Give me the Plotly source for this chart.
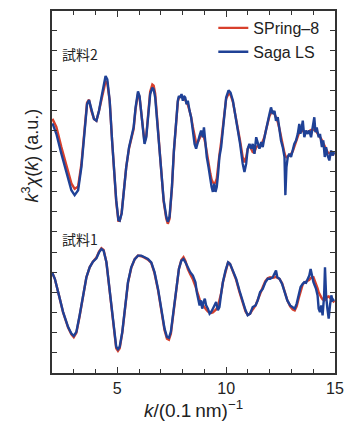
import plotly.graph_objects as go

# ---------------- data ----------------
# Sample 2 (upper curve), shared k grid
k2 = [2.02,2.20,2.43,2.66,2.89,3.04,3.20,3.35,3.50,3.61,
      3.70,3.81,3.93,4.04,4.16,4.27,4.37,4.46,4.54,4.65,
      4.76,4.85,4.95,5.05,5.11,5.20,5.29,5.41,5.54,5.64,
      5.75,5.84,5.95,6.02,6.10,6.18,6.25,6.33,6.42,6.51,
      6.61,6.67,6.74,6.82,6.91,7.02,7.13,7.25,7.32,7.40,
      7.51,7.60,7.71,7.78,7.83,7.89,7.95,8.01,8.06,8.12,
      8.18,8.24,8.32,8.39,8.47,8.55,8.62,8.70,8.78,8.85,
      8.93,8.98,9.04,9.11,9.19,9.27,9.33,9.39,9.45,9.51,
      9.57,9.63,9.69,9.77,9.85,9.92,10.00,10.11,10.20,10.31,
      10.41,10.54,10.64,10.76,10.84,10.92,10.99,11.07,11.15,11.22,
      11.30,11.38,11.45,11.53,11.61,11.68,11.76,11.83,11.91,11.99,
      12.06,12.14,12.22,12.29,12.37,12.45,12.52,12.60,12.68,12.72,
      12.77,12.83,12.90,12.98,13.06,13.13,13.21,13.29,13.36,13.41,
      13.46,13.52,13.59,13.67,13.75,13.82,13.90,13.98,14.05,14.10,
      14.16,14.25,14.31,14.40,14.46,14.53,14.59,14.66,14.74,14.82,
      14.89,14.97]
saga2 = [12.38,11.86,10.87,9.89,9.06,8.82,9.06,10.21,11.86,13.33,
         13.53,13.00,12.59,12.51,13.00,13.66,14.32,14.73,14.56,13.50,
         11.53,9.89,8.57,7.59,7.55,7.91,8.90,10.21,11.20,11.61,
         12.18,13.17,13.96,13.74,12.84,11.86,11.36,11.69,13.00,13.83,
         14.15,14.07,13.66,12.68,11.36,9.89,8.57,7.75,7.50,7.75,
         9.23,11.03,12.84,13.50,13.74,13.66,13.83,13.50,13.74,13.66,
         13.33,13.50,13.00,12.68,12.02,11.36,11.12,11.53,11.77,12.02,
         11.69,12.18,11.36,10.71,10.21,9.47,9.23,8.98,9.39,8.98,
         9.23,9.89,10.71,11.20,12.18,13.00,13.66,14.02,13.91,13.50,
         12.84,12.18,11.36,10.38,9.97,10.38,11.12,11.36,11.12,11.36,
         10.87,11.69,11.36,11.12,11.45,11.20,11.69,12.10,12.51,12.84,
         13.17,12.84,13.00,12.51,12.68,12.02,11.53,11.20,10.71,8.82,
         10.21,10.71,10.87,10.71,11.03,11.36,11.53,11.86,12.35,11.86,
         12.10,12.51,11.69,12.02,11.86,12.02,11.69,12.18,12.68,11.94,
         12.18,11.69,11.86,11.20,11.53,10.71,11.20,10.79,10.54,11.03,
         10.79,10.95]
spring2 = [12.60,12.20,11.20,10.25,9.40,9.13,9.25,10.35,11.95,13.40,
           13.55,13.00,12.59,12.51,13.00,13.60,14.15,14.45,14.40,13.50,
           11.53,9.89,8.50,7.55,7.55,7.95,8.95,10.21,11.15,11.55,
           12.10,13.10,13.85,13.70,12.84,11.90,11.45,11.75,13.05,13.95,
           14.30,14.25,13.85,12.75,11.40,9.89,8.50,7.65,7.40,7.65,
           9.20,11.00,12.80,13.45,13.65,13.70,13.70,13.65,13.60,13.55,
           13.40,13.30,13.00,12.70,12.20,11.70,11.40,11.45,11.65,11.80,
           11.75,11.70,11.40,10.90,10.40,9.90,9.60,9.45,9.40,9.45,
           9.65,10.10,10.80,11.45,12.30,13.10,13.60,13.85,13.80,13.45,
           12.90,12.20,11.50,10.70,10.45,10.70,11.10,11.30,11.15,10.95,
           10.95,11.20,11.25,11.25,11.30,11.45,11.70,12.05,12.40,12.75,
           12.90,12.95,12.85,12.70,12.45,12.10,11.65,11.30,10.90,10.75,
           10.70,10.75,10.80,10.85,11.00,11.25,11.45,11.70,11.95,11.95,
           12.00,12.00,11.95,11.95,11.95,12.00,12.05,12.05,12.10,12.05,
           11.95,11.85,11.75,11.55,11.40,11.25,11.10,10.95,10.90,10.85,
           10.85,10.85]

# Sample 1 (lower curve), shared k grid
k1 = [2.00,2.13,2.32,2.51,2.74,2.89,3.00,3.12,3.27,3.43,
      3.58,3.73,3.88,4.04,4.16,4.27,4.37,4.50,4.62,4.74,
      4.86,4.95,5.03,5.11,5.23,5.35,5.49,5.64,5.80,5.95,
      6.10,6.25,6.41,6.56,6.71,6.87,7.02,7.17,7.28,7.37,
      7.46,7.58,7.71,7.83,7.94,8.04,8.13,8.24,8.35,8.47,
      8.59,8.65,8.72,8.78,8.84,8.90,8.96,9.02,9.08,9.16,
      9.24,9.31,9.39,9.46,9.54,9.62,9.69,9.77,9.85,9.97,
      10.09,10.18,10.31,10.46,10.61,10.76,10.89,10.99,11.10,11.22,
      11.35,11.45,11.56,11.68,11.80,11.91,12.02,12.14,12.23,12.29,
      12.35,12.45,12.57,12.69,12.81,12.94,13.06,13.15,13.24,13.33,
      13.42,13.52,13.59,13.67,13.76,13.82,13.88,13.94,14.01,14.07,
      14.13,14.20,14.25,14.31,14.37,14.43,14.50,14.54,14.59,14.65,
      14.71,14.77,14.83,14.89,14.97]
saga1 = [5.00,4.67,3.85,3.02,2.28,1.96,1.84,2.04,2.86,3.85,
         4.75,5.24,5.52,5.69,5.98,6.15,6.07,5.49,4.34,3.02,
         1.87,1.30,1.18,1.30,2.04,3.19,4.50,5.24,5.65,5.82,
         5.82,5.74,5.65,5.49,5.00,4.17,3.19,2.20,1.79,1.74,
         2.04,3.02,4.34,5.16,5.57,5.65,5.49,5.24,5.00,4.83,
         4.50,4.01,3.68,3.35,3.60,3.19,3.52,3.68,3.35,3.19,
         2.94,3.02,3.19,3.35,3.52,3.11,3.27,3.93,4.50,5.08,
         5.49,5.41,5.08,4.67,4.09,3.52,3.11,2.86,2.94,3.27,
         3.35,3.60,4.01,4.17,4.50,4.67,4.67,4.75,4.91,5.08,
         4.75,4.67,4.42,4.01,3.60,3.35,3.27,3.19,3.44,3.85,
         4.26,4.42,4.50,4.47,4.67,4.83,5.16,4.75,4.50,4.34,
         4.17,3.85,3.19,3.02,3.35,2.86,3.85,5.24,3.85,3.19,
         2.70,3.35,3.85,3.60,3.65]
spring1 = [5.00,4.67,3.85,3.00,2.25,1.92,1.78,1.99,2.83,3.83,
           4.74,5.24,5.52,5.72,6.02,6.19,6.10,5.49,4.31,2.98,
           1.80,1.22,1.10,1.22,2.01,3.16,4.47,5.21,5.65,5.82,
           5.79,5.72,5.62,5.46,4.95,4.12,3.12,2.12,1.70,1.65,
           1.95,2.99,4.31,5.16,5.60,5.74,5.55,5.15,4.90,4.65,
           4.30,4.05,3.85,3.65,3.50,3.40,3.30,3.22,3.15,3.05,
           3.00,2.98,3.00,3.05,3.15,3.30,3.55,3.95,4.50,5.08,
           5.50,5.40,5.05,4.62,4.02,3.45,3.05,2.88,2.95,3.15,
           3.35,3.62,3.95,4.25,4.55,4.70,4.75,4.72,4.74,4.78,
           4.72,4.67,4.45,4.00,3.60,3.30,3.15,3.10,3.30,3.70,
           4.10,4.40,4.48,4.52,4.58,4.62,4.70,4.75,4.75,4.60,
           4.40,4.20,4.00,3.85,3.75,3.65,3.60,3.62,3.70,3.78,
           3.80,3.72,3.65,3.55,3.50]

x_ticks = [5, 10, 15]
series_names = ["SPring\u20138", "Saga LS"]
sample_labels = ["試料2", "試料1"]
sample_label_pos = [(2.35, 15.8), (2.35, 6.65)]

# ---------------- figure ----------------
RED = "#d8402c"
BLUE = "#1f4196"
AX = "#333333"
FONT = "Liberation Sans, Arial, sans-serif"

fig = go.Figure()
fig.add_trace(go.Scatter(x=k2, y=spring2, mode="lines", name=series_names[0],
                         line=dict(color=RED, width=2.4), legendgroup="r"))
fig.add_trace(go.Scatter(x=k1, y=spring1, mode="lines", name=series_names[0],
                         line=dict(color=RED, width=2.4), legendgroup="r",
                         showlegend=False))
fig.add_trace(go.Scatter(x=k2, y=saga2, mode="lines", name=series_names[1],
                         line=dict(color=BLUE, width=2.4), legendgroup="b"))
fig.add_trace(go.Scatter(x=k1, y=saga1, mode="lines", name=series_names[1],
                         line=dict(color=BLUE, width=2.4), legendgroup="b",
                         showlegend=False))

for lab, (lx, ly) in zip(sample_labels, sample_label_pos):
    fig.add_annotation(x=lx, y=ly, xref="x", yref="y", text=lab,
                       showarrow=False, xanchor="left", yanchor="middle",
                       font=dict(family="Noto Sans CJK JP", size=14, color="#222"))

fig.add_annotation(xref="paper", yref="paper", x=-0.075, y=0.6,
                   text="<i>k</i><sup>3</sup><i>χ</i>(<i>k</i>) (a.u.)",
                   textangle=-90, showarrow=False, xanchor="center", yanchor="middle",
                   font=dict(family=FONT, size=18, color="#222"))

fig.update_layout(
    width=356, height=424,
    margin=dict(l=52, r=21, t=9, b=51),
    paper_bgcolor="white", plot_bgcolor="white",
    font=dict(family=FONT, color="#222"),
    showlegend=True,
    legend=dict(x=0.57, y=1.0, xanchor="left", yanchor="top",
                bgcolor="rgba(0,0,0,0)", font=dict(family=FONT, size=16, color="#222"),
                tracegroupgap=0, itemwidth=30),
    xaxis=dict(range=[2, 15], tickvals=x_ticks, ticks="inside", ticklen=6,
               tickwidth=1.2, tickcolor=AX, showline=True, linecolor=AX, linewidth=1.5,
               mirror="ticks", showgrid=False, zeroline=False,
               tickfont=dict(family=FONT, size=16, color="#222"),
               minor=dict(dtick=1, tick0=0, ticks="inside", ticklen=4, tickcolor=AX,
                          tickwidth=1.2, showgrid=False),
               title=dict(text="<i>k</i>/(0.1\u2009nm)<sup>\u22121</sup>",
                          font=dict(family=FONT, size=19, color="#222"), standoff=4)),
    yaxis=dict(range=[0, 17.95], dtick=1, tick0=0, ticks="inside", ticklen=5,
               tickwidth=1.2, tickcolor=AX, showline=True, linecolor=AX, linewidth=1.5,
               mirror="ticks", showgrid=False, zeroline=False, showticklabels=False),
)

fig.write_html("out.html", config={"displayModeBar": False},
               post_script="document.body.style.margin='0';document.body.style.overflow='hidden';")
